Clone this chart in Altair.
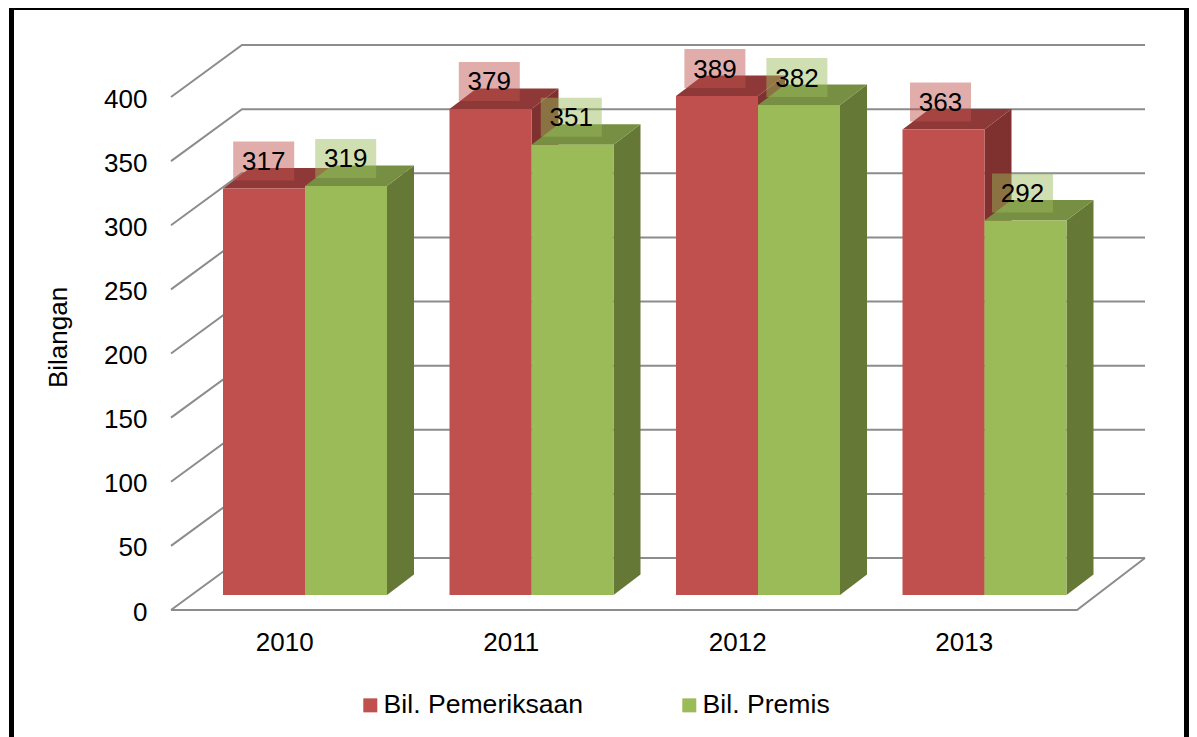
import altair as alt
import pandas as pd

categories = ["2010", "2011", "2012", "2013"]
pemeriksaan = [317, 379, 389, 363]
premis = [319, 351, 382, 292]
series_names = ["Bil. Pemeriksaan", "Bil. Premis"]
y_ticks = [0, 50, 100, 150, 200, 250, 300, 350, 400]

FONT = "Liberation Sans"
W, H = 1181, 729
PX_CAT = 226.5      # pixels per category
PX_VAL = 1.2825     # pixels per value unit
X0_PX, Y0_PX = 171, 610  # front corner of the floor in the picture

xs = alt.Scale(domain=[(8 - X0_PX) / PX_CAT, (1189 - X0_PX) / PX_CAT], nice=False, zero=False)
ys = alt.Scale(domain=[(Y0_PX - 737) / PX_VAL, (Y0_PX - 8) / PX_VAL], nice=False, zero=False)

WALL_DX, WALL_DY = 71 / PX_CAT, 52 / PX_VAL
BAR_LEFT, BAR_W = 52 / PX_CAT, 82 / PX_CAT
BASE = 15 / PX_VAL
DEPTH_DX, DEPTH_DY = 27 / PX_CAT, 20.5 / PX_VAL
BOX_HW, BOX_HH, BOX_UP = 30.5 / PX_CAT, 19.5 / PX_VAL, 27.5 / PX_VAL

faces = {
    series_names[0]: dict(front="#C0504D", top="#8E3937", side="#7E312F"),
    series_names[1]: dict(front="#9BBB59", top="#768F42", side="#657836"),
}

rows = []
for i, (a, b) in enumerate(zip(pemeriksaan, premis)):
    for j, (name, v) in enumerate(zip(series_names, (a, b))):
        rows.append(dict(year=categories[i], i=i, series=name, value=v,
                         xl=i + BAR_LEFT + j * BAR_W, xr=i + BAR_LEFT + (j + 1) * BAR_W,
                         y0=BASE, y1=BASE + v))
bars = pd.DataFrame(rows)
bars["lab"] = bars["value"].astype(str)
bars["cx"] = (bars.xl + bars.xr) / 2 - (0.3 + 0.9 * bars.i) / PX_CAT
bars["cy"] = bars.y1 + BOX_UP
bars["bx0"], bars["bx1"] = bars.cx - BOX_HW, bars.cx + BOX_HW
bars["by0"], bars["by1"] = bars.cy - BOX_HH, bars.cy + BOX_HH


def side_df(name):
    out = []
    for _, r in bars[bars.series == name].iterrows():
        out.append(dict(k=r["year"], x=r["xr"], lo=r["y0"], hi=r["y1"]))
        out.append(dict(k=r["year"], x=r["xr"] + DEPTH_DX, lo=r["y0"] + DEPTH_DY, hi=r["y1"] + DEPTH_DY))
    return pd.DataFrame(out)


def top_df(name):
    out = []
    for _, r in bars[bars.series == name].iterrows():
        out.append(dict(k=r["year"], y=r["y1"], a=r["xl"], b=r["xr"]))
        out.append(dict(k=r["year"], y=r["y1"] + DEPTH_DY, a=r["xl"] + DEPTH_DX, b=r["xr"] + DEPTH_DX))
    return pd.DataFrame(out)


# grid: front edge up the slanted side wall, then along the back wall
right_end = 4 + (1145 - 1077) / PX_CAT
grid_rows = []
for t in y_ticks:
    grid_rows.append(dict(t=str(t), x=0, y=t))
    grid_rows.append(dict(t=str(t), x=WALL_DX, y=t + WALL_DY))
    grid_rows.append(dict(t=str(t), x=right_end, y=t + WALL_DY))
grid = pd.DataFrame(grid_rows)
floor = pd.DataFrame([dict(x=0, y=0), dict(x=4, y=0), dict(x=right_end, y=WALL_DY)])
frame = pd.DataFrame([dict(x=(11.5 - X0_PX) / PX_CAT, x2=(1186.5 - X0_PX) / PX_CAT,
                           y=(Y0_PX - 7.5) / PX_VAL, y2=(Y0_PX - 745) / PX_VAL)])

label_expr = "[" + ",".join(f"'{c}'" for c in categories) + "][floor(datum.value)]"

x_axis = alt.Axis(
    orient="bottom", offset=-(737 - 629), values=[i + 0.5 for i in range(len(categories))],
    labelExpr=label_expr, domain=False, ticks=False, grid=False, labelPadding=0, title=None,
    labelFont=FONT, labelFontSize=26, labelColor="#000000", labelOverlap=False, labelBaseline="top")
y_axis = alt.Axis(
    orient="left", offset=-(147 - 8), values=y_ticks, domain=False, ticks=False, grid=False,
    labelPadding=0, labelOffset=2, labelFont=FONT, labelFontSize=26, labelColor="#000000", labelOverlap=False,
    title="Bilangan", titleFont=FONT, titleFontSize=26, titleFontWeight="normal",
    titleColor="#000000", titleX=71 - 147, titleY=337 - 8)


def X(f):
    return alt.X(f, scale=xs, axis=x_axis)


def Y(f):
    return alt.Y(f, scale=ys, axis=y_axis)


GRID_COLOR = "#8C8C8C"
grid_layer = alt.Chart(grid).mark_line(color=GRID_COLOR, strokeWidth=2).encode(
    x=X("x:Q"), y=Y("y:Q"), detail="t:N")
floor_layer = alt.Chart(floor).mark_line(color=GRID_COLOR, strokeWidth=2).encode(
    x=X("x:Q"), y=Y("y:Q"))
frame_layer = alt.Chart(frame).mark_rect(filled=False, stroke="#000000", strokeWidth=5).encode(
    x=X("x:Q"), x2="x2:Q", y=Y("y:Q"), y2="y2:Q")

layers = [grid_layer, floor_layer]
for name in series_names:
    layers.append(alt.Chart(side_df(name)).mark_area(color=faces[name]["side"]).encode(
        x=X("x:Q"), y=Y("lo:Q"), y2="hi:Q", detail="k:N"))
    layers.append(alt.Chart(top_df(name)).mark_area(color=faces[name]["top"], orient="horizontal").encode(
        y=Y("y:Q"), x=X("a:Q"), x2="b:Q", detail="k:N"))

fronts = alt.Chart(bars).mark_bar().encode(
    x=X("xl:Q"), x2="xr:Q", y=Y("y0:Q"), y2="y1:Q",
    color=alt.Color("series:N", scale=alt.Scale(domain=series_names,
                                                range=[faces[n]["front"] for n in series_names]),
                    legend=alt.Legend(title=None, orient="none", legendX=357 - 8, legendY=692 - 8,
                                      direction="horizontal", columns=2, columnPadding=92, padding=0,
                                      symbolType="square", symbolSize=196, symbolStrokeWidth=0, labelOffset=0,
                                      labelLimit=400, labelFont=FONT, labelFontSize=26.6,
                                      labelColor="#000000", symbolOpacity=1)),
)
layers.append(fronts)
layers.append(alt.Chart(bars).mark_rect(opacity=0.47).encode(
    x=X("bx0:Q"), x2="bx1:Q", y=Y("by0:Q"), y2="by1:Q",
    color=alt.Color("series:N", legend=None)))
layers.append(alt.Chart(bars).mark_text(font=FONT, fontSize=26, color="#000000", baseline="middle", align="center", dy=1).encode(
    x=X("cx:Q"), y=Y("cy:Q"), text="lab:N"))
layers.append(frame_layer)

chart = alt.layer(*layers).properties(
    width=W, height=H, padding=0, background="#FFFFFF",
    autosize=alt.AutoSizeParams(type="none"),
).configure_view(stroke=None)

chart.save("out.html", embed_options={"renderer": "svg", "actions": False})
